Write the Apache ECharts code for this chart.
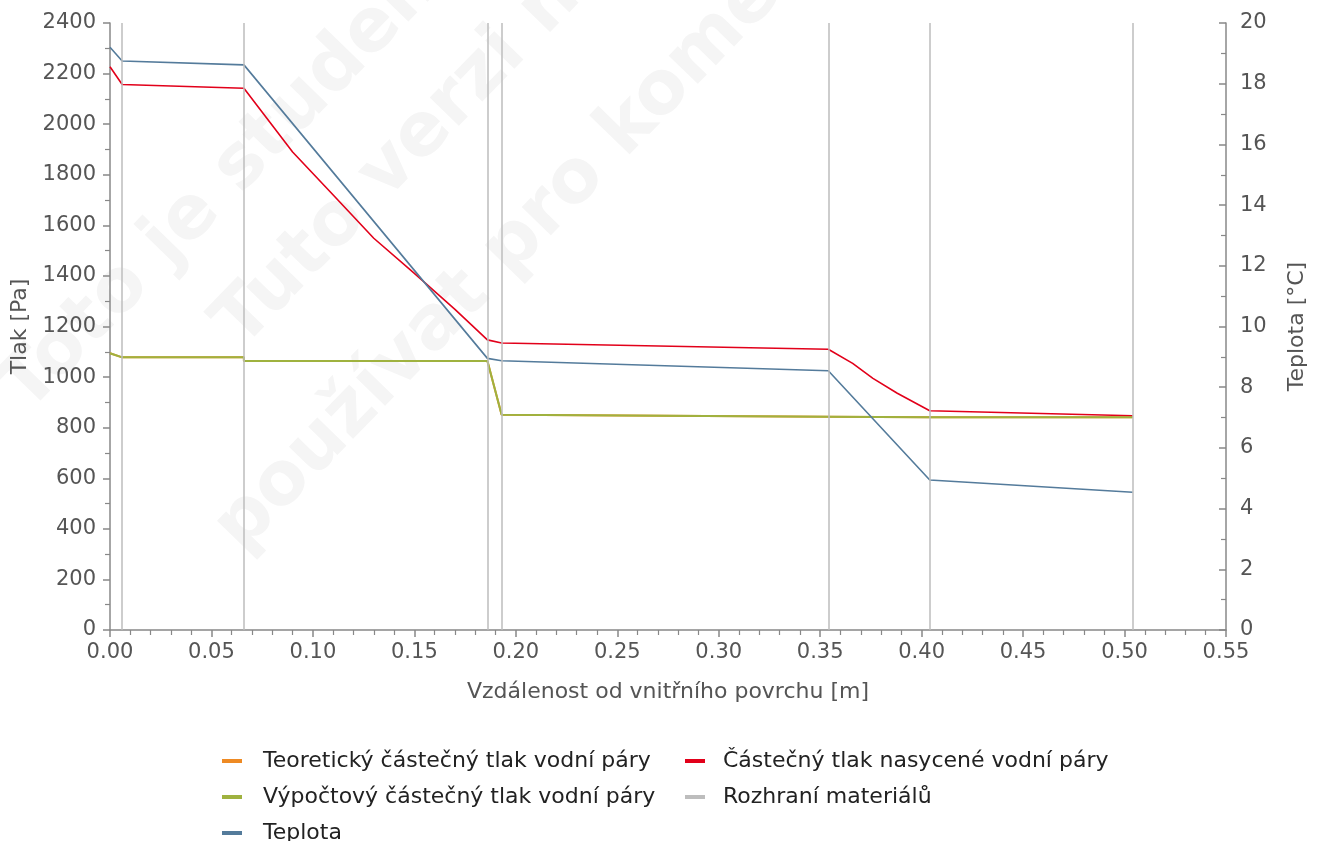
<!DOCTYPE html>
<html>
<head>
<meta charset="utf-8">
<script src="https://cdn.jsdelivr.net/npm/echarts@6/dist/echarts.min.js"></script>
<style>
html,body{margin:0;padding:0;background:#fff;}
#chart{width:1317px;height:841px;}
</style>
</head>
<body>
<div id="chart"></div>
<script>
// ---- data ----
const xTicks = [0, 0.05, 0.10, 0.15, 0.20, 0.25, 0.30, 0.35, 0.40, 0.45, 0.50, 0.55];

const interfaces = [0.006, 0.066, 0.186, 0.193, 0.354, 0.404, 0.504];

const xTemp = [0, 0.006, 0.066, 0.186, 0.193, 0.354, 0.404, 0.504];
const temperature = [19.2, 18.75, 18.62, 8.95, 8.87, 8.54, 4.94, 4.54];

const xSat = [0, 0.006, 0.066, 0.09, 0.11, 0.13, 0.15, 0.17, 0.186, 0.193, 0.354, 0.366, 0.376, 0.388, 0.404, 0.504];
const saturation = [2227, 2157, 2142, 1890, 1720, 1549, 1410, 1268, 1147, 1135, 1110, 1054, 995, 936, 867, 847];

const xVap = [0, 0.006, 0.066, 0.066, 0.186, 0.193, 0.354, 0.404, 0.504];
const vapourCalc = [1094, 1078, 1078, 1064, 1064, 851, 843, 841, 841];
const vapourTheor = [1094, 1078, 1078, 1064, 1064, 851, 843, 841, 841];

const names = {
  theor: 'Teoretický částečný tlak vodní páry',
  sat: 'Částečný tlak nasycené vodní páry',
  calc: 'Výpočtový částečný tlak vodní páry',
  iface: 'Rozhraní materiálů',
  temp: 'Teplota'
};

const colors = {
  theor: '#ee8a23',
  sat: '#e2001a',
  calc: '#9fb23f',
  iface: '#bdbdbd',
  temp: '#547b9b'
};

function pairs(xs, ys) { return xs.map((x, i) => [x, ys[i]]); }

const FONT = '"DejaVu Sans", sans-serif';
const chart = echarts.init(document.getElementById('chart'), null, {renderer: 'canvas'});

function lineSeries(key, xs, ys, yIdx, width, extra) {
  return Object.assign({
    name: names[key],
    type: 'line',
    yAxisIndex: yIdx,
    data: pairs(xs, ys),
    showSymbol: false,
    symbol: 'none',
    smooth: false,
    color: colors[key],
    itemStyle: {color: colors[key]},
    lineStyle: {color: colors[key], width: width},
    emphasis: {disabled: true},
    animation: false
  }, extra || {});
}

const axisLineStyle = {color: '#888', width: 1.5};
const WM = 'bold 74px "DejaVu Sans"';
const WMC = '#f5f5f5';
const WR = 0.8;

const option = {
  backgroundColor: '#fff',
  animation: false,
  textStyle: {fontFamily: FONT},
  graphic: [
    {type: 'text', x: 14, y: 400, rotation: WR, silent: true, z: -10,
     style: {text: 'Toto je studentská verze programu', font: WM, fill: WMC, verticalAlign: 'middle'}},
    {type: 'text', x: 228, y: 336, rotation: WR, silent: true, z: -10,
     style: {text: 'Tuto verzi nelze', font: WM, fill: WMC, verticalAlign: 'middle'}},
    {type: 'text', x: 228, y: 540, rotation: WR, silent: true, z: -10,
     style: {text: 'používat pro komerční účely', font: WM, fill: WMC, verticalAlign: 'middle'}}
  ],
  grid: {left: 110, right: 91, top: 23, bottom: 211, containLabel: false},
  legend: [
    {
      orient: 'vertical', left: 222, top: 750, height: 120, padding: 0, itemGap: 14,
      icon: 'rect', itemWidth: 20, itemHeight: 4,
      selectedMode: false,
      textStyle: {fontFamily: FONT, fontSize: 22, color: '#222', padding: [0, 0, 0, 16]},
      data: [names.theor, names.calc, names.temp]
    },
    {
      orient: 'vertical', left: 685, top: 750, height: 120, padding: 0, itemGap: 14,
      icon: 'rect', itemWidth: 20, itemHeight: 4,
      selectedMode: false,
      textStyle: {fontFamily: FONT, fontSize: 22, color: '#222', padding: [0, 0, 0, 13]},
      data: [names.sat, names.iface]
    }
  ],
  xAxis: {
    type: 'value', min: 0, max: 0.55, interval: 0.05,
    name: 'Vzdálenost od vnitřního povrchu [m]',
    nameLocation: 'middle', nameGap: 51,
    nameTextStyle: {fontFamily: FONT, fontSize: 22, color: '#555'},
    axisLine: {show: true, onZero: false, lineStyle: axisLineStyle},
    axisTick: {show: true, length: 7, lineStyle: axisLineStyle},
    minorTick: {show: true, splitNumber: 5, length: 5, lineStyle: {color: '#888', width: 1.2}},
    axisLabel: {fontFamily: FONT, fontSize: 21, color: '#555', margin: 12,
      formatter: v => xTicks.includes(Math.round(v * 100) / 100) ? v.toFixed(2) : ''},
    splitLine: {show: false}
  },
  yAxis: [
    {
      type: 'value', min: 0, max: 2400, interval: 200, position: 'left',
      name: 'Tlak [Pa]', nameLocation: 'middle', nameGap: 77, nameRotate: 90,
      nameTextStyle: {fontFamily: FONT, fontSize: 22, color: '#555'},
      axisLine: {show: true, lineStyle: axisLineStyle},
      axisTick: {show: true, length: 7, lineStyle: axisLineStyle},
      minorTick: {show: true, splitNumber: 2, length: 5, lineStyle: {color: '#888', width: 1.2}},
      axisLabel: {fontFamily: FONT, fontSize: 21, color: '#555', margin: 14,
        formatter: v => String(v)},
      splitLine: {show: false}
    },
    {
      type: 'value', min: 0, max: 20, interval: 2, position: 'right',
      name: 'Teplota [°C]', nameLocation: 'middle', nameGap: 60, nameRotate: 90,
      nameTextStyle: {fontFamily: FONT, fontSize: 22, color: '#555'},
      axisLine: {show: true, lineStyle: axisLineStyle},
      axisTick: {show: true, inside: true, length: 7, lineStyle: axisLineStyle},
      minorTick: {show: true, splitNumber: 2, length: 5, lineStyle: {color: '#888', width: 1.2}},
      axisLabel: {fontFamily: FONT, fontSize: 21, color: '#555', margin: 14,
        formatter: v => String(v)},
      splitLine: {show: false}
    }
  ],
  series: [
    lineSeries('theor', xVap, vapourTheor, 0, 2, {z: 2}),
    lineSeries('sat', xSat, saturation, 0, 1.6, {z: 3}),
    lineSeries('calc', xVap, vapourCalc, 0, 2, {z: 3}),
    {
      name: names.iface, type: 'line', yAxisIndex: 0, data: [],
      color: colors.iface, itemStyle: {color: colors.iface}, lineStyle: {color: colors.iface},
      z: 10,
      markLine: {
        silent: true, symbol: ['none', 'none'], animation: false, precision: 4,
        label: {show: false},
        lineStyle: {color: colors.iface, type: 'solid', width: 1.5},
        emphasis: {disabled: true},
        data: interfaces.map(v => ({xAxis: v}))
      }
    },
    lineSeries('temp', xTemp, temperature, 1, 1.6, {z: 4})
  ]
};
chart.setOption(option);
</script>
</body>
</html>
